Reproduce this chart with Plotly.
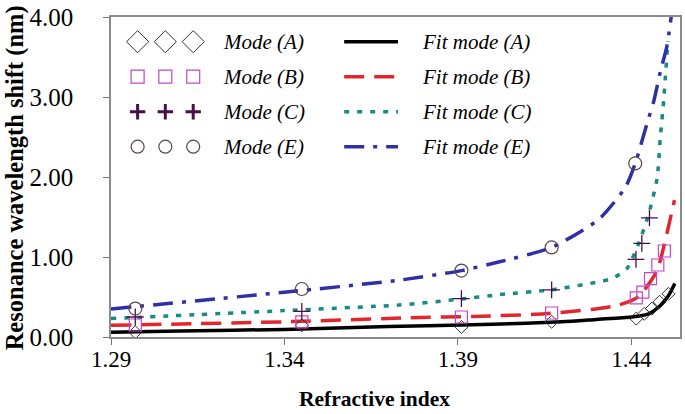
import plotly.graph_objects as go

# ---------------- data ----------------
mode_a_x = [1.297, 1.345, 1.391, 1.417, 1.4414, 1.4437, 1.4459, 1.4481, 1.4507]
mode_a_y = [0.06, 0.146, 0.125, 0.19, 0.23, 0.29, 0.355, 0.44, 0.54]
mode_b_x = [1.297, 1.345, 1.391, 1.417, 1.4414, 1.4433, 1.4455, 1.4476, 1.4495]
mode_b_y = [0.15, 0.19, 0.25, 0.30, 0.49, 0.56, 0.73, 0.90, 1.075]
mode_c_x = [1.297, 1.345, 1.391, 1.417, 1.4413, 1.4430, 1.4452]
mode_c_y = [0.25, 0.32, 0.48, 0.59, 0.97, 1.17, 1.49]
mode_e_x = [1.297, 1.345, 1.391, 1.417, 1.4411]
mode_e_y = [0.355, 0.60, 0.83, 1.12, 2.17]

fit_a_x = [1.29, 1.31, 1.34, 1.37, 1.40, 1.42, 1.43, 1.44, 1.445, 1.4475, 1.4495, 1.451, 1.4525]
fit_a_y = [0.06, 0.075, 0.095, 0.13, 0.16, 0.19, 0.22, 0.25, 0.29, 0.36, 0.45, 0.54, 0.67]
fit_b_x = [1.29, 1.34, 1.376, 1.397, 1.415, 1.4306, 1.4364, 1.4412, 1.4436, 1.4474, 1.4502, 1.4524]
fit_b_y = [0.146, 0.19, 0.24, 0.26, 0.29, 0.355, 0.40, 0.48, 0.58, 0.83, 1.29, 1.71]
fit_c_x = [1.29, 1.34, 1.373, 1.39, 1.402, 1.417, 1.4306, 1.4344, 1.4387, 1.4421, 1.445, 1.4474, 1.4483, 1.4493, 1.4505]
fit_c_y = [0.23, 0.33, 0.40, 0.47, 0.53, 0.59, 0.69, 0.73, 0.855, 1.17, 1.54, 1.98, 2.48, 2.96, 3.7]
fit_e_x = [1.29, 1.34, 1.373, 1.391, 1.402, 1.417, 1.4306, 1.4383, 1.4411, 1.4445, 1.4464, 1.4483, 1.4502, 1.4517]
fit_e_y = [0.35, 0.56, 0.71, 0.83, 0.94, 1.12, 1.47, 1.875, 2.17, 2.67, 2.94, 3.31, 3.63, 4.08]

x_ticks = [1.29, 1.34, 1.39, 1.44]
x_tick_labels = ["1.29", "1.34", "1.39", "1.44"]
y_ticks = [0, 1, 2, 3, 4]
y_tick_labels = ["0.00", "1.00", "2.00", "3.00", "4.00"]

mode_names = ["Mode (A)", "Mode (B)", "Mode (C)", "Mode (E)"]
fit_names = ["Fit mode (A)", "Fit mode (B)", "Fit mode (C)", "Fit mode (E)"]

# ---------------- styles ----------------
SERIF = "Liberation Serif, Times New Roman, serif"
C_A, C_B, C_C, C_E = "#000000", "#E3262B", "#178A84", "#2F30A6"
MK_A = dict(symbol="diamond-open", color="#333333", line=dict(width=1, color="#333333"))
MK_B = dict(symbol="square-open", color="#C348C3", line=dict(width=1.2, color="#C348C3"))
MK_C = dict(symbol="cross-thin-open", color="#4A0F4A", line=dict(width=1.3, color="#4A0F4A"))
MK_E = dict(symbol="circle-open", color="#5A4646", line=dict(width=1.2, color="#5A4646"))
LN_A = dict(color=C_A, width=3.5)
LN_B = dict(color=C_B, width=3.5, dash="20px,10px")
LN_C = dict(color=C_C, width=3.5, dash="5px,8px")
LN_E = dict(color=C_E, width=3.5, dash="20px,9px,4px,9px")

fig = go.Figure()

# fit curves
for fx, fy, ln, nm in [(fit_a_x, fit_a_y, LN_A, fit_names[0]),
                       (fit_b_x, fit_b_y, LN_B, fit_names[1]),
                       (fit_c_x, fit_c_y, LN_C, fit_names[2]),
                       (fit_e_x, fit_e_y, LN_E, fit_names[3])]:
    fig.add_trace(go.Scatter(x=fx, y=fy, mode="lines", line=dict(shape="spline", smoothing=0.6, **ln),
                             name=nm, showlegend=False))

# measured modes
for mx, my, mk, sz, nm in [(mode_a_x, mode_a_y, MK_A, 10, mode_names[0]),
                           (mode_b_x, mode_b_y, MK_B, 12, mode_names[1]),
                           (mode_c_x, mode_c_y, MK_C, 12, mode_names[2]),
                           (mode_e_x, mode_e_y, MK_E, 13, mode_names[3])]:
    fig.add_trace(go.Scatter(x=mx, y=my, mode="markers", marker=dict(size=sz, **mk),
                             name=nm, showlegend=False))

# ---------------- custom legend (overlay axis in plot-pixel units) ----------------
PL, PR, PT, PB = 111, 682, 17, 337
row_y = [41.7, 76.7, 111.7, 146.7]
sym_x = [137.7, 165.5, 193.5]
leg_mk = [(dict(symbol="diamond-open", line=dict(width=1, color="#333333"), color="#333333"), 17),
          (dict(symbol="square-open", line=dict(width=1.2, color="#C348C3"), color="#C348C3"), 13),
          (dict(symbol="cross-thin-open", line=dict(width=3, color="#4A0F4A"), color="#4A0F4A"), 11),
          (dict(symbol="circle-open", line=dict(width=1.2, color="#5A4646"), color="#5A4646"), 13)]
leg_ln = [LN_A, LN_B, LN_C, LN_E]
for i in range(4):
    mk, sz = leg_mk[i]
    fig.add_trace(go.Scatter(x=sym_x, y=[row_y[i]] * 3, xaxis="x2", yaxis="y2", mode="markers",
                             marker=dict(size=sz, **mk), showlegend=False, hoverinfo="skip"))
    fig.add_trace(go.Scatter(x=[345, 399], y=[row_y[i]] * 2, xaxis="x2", yaxis="y2", mode="lines",
                             line=leg_ln[i], showlegend=False, hoverinfo="skip"))
    fig.add_annotation(x=221, y=row_y[i], xref="x2", yref="y2", text="<i>" + mode_names[i] + "</i>",
                       showarrow=False, xanchor="left", yanchor="middle",
                       font=dict(family=SERIF, size=21, color="black"))
    fig.add_annotation(x=421, y=row_y[i], xref="x2", yref="y2", text="<i>" + fit_names[i] + "</i>",
                       showarrow=False, xanchor="left", yanchor="middle",
                       font=dict(family=SERIF, size=21, color="black"))

# axis titles
fig.add_annotation(x=(375.5 - PL) / (PR - PL), y=(PB - 399) / (PB - PT), xref="paper", yref="paper",
                   text="<b>Refractive index</b>", showarrow=False, xanchor="center", yanchor="middle",
                   font=dict(family=SERIF, size=21.5, color="black"))
fig.add_annotation(x=(15 - PL) / (PR - PL), y=(PB - 178) / (PB - PT), xref="paper", yref="paper",
                   text="<b>Resonance wavelength shift (nm)</b>", showarrow=False, textangle=-90,
                   xanchor="center", yanchor="middle",
                   font=dict(family=SERIF, size=24.5, color="black"))

fig.update_layout(
    width=685, height=414,
    margin=dict(l=PL, r=685 - PR, t=PT, b=414 - PB),
    paper_bgcolor="white", plot_bgcolor="white",
    showlegend=False,
    xaxis=dict(range=[1.29, 1.454], tickvals=x_ticks, ticktext=x_tick_labels,
               ticks="outside", ticklen=6, tickcolor="#777777", tickwidth=1,
               showgrid=False, zeroline=False, showline=True, linecolor="#8a8a8a", linewidth=1.5,
               mirror=True, ticklabelstandoff=-5,
               tickfont=dict(family=SERIF, size=23, color="black")),
    yaxis=dict(range=[0, 4.0], tickvals=y_ticks, ticktext=y_tick_labels,
               ticks="outside", ticklen=6, tickcolor="#777777", tickwidth=1,
               showgrid=False, zeroline=False, showline=True, linecolor="#8a8a8a", linewidth=1.5,
               mirror=True, ticklabelstandoff=25,
               tickfont=dict(family=SERIF, size=25, color="black")),
    xaxis2=dict(overlaying="x", range=[PL, PR], visible=False, domain=[0, 1]),
    yaxis2=dict(overlaying="y", range=[PB, PT], visible=False, domain=[0, 1]),
)

fig.write_html("out.html", config={"displayModeBar": False},
               post_script="document.body.style.margin='0';document.body.style.overflow='hidden';")
